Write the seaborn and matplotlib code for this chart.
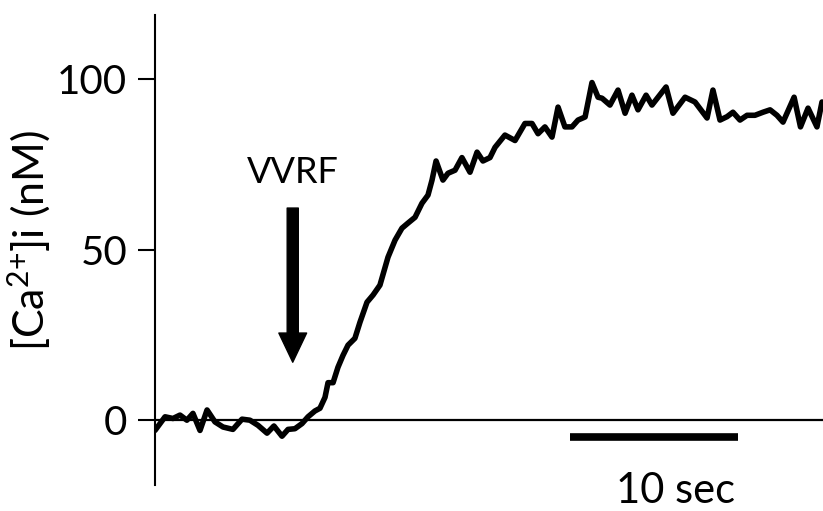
import numpy as np
import pandas as pd
import matplotlib
matplotlib.use('Agg')
import matplotlib.pyplot as plt
import seaborn as sns

# trace: time (s) and [Ca2+]i (nM)
time_s = [
    0.0, 0.6, 1.07, 1.49, 1.9, 2.26, 2.68, 3.1, 3.57, 4.05,
    4.64, 5.18, 5.65, 6.13, 6.67, 7.08, 7.56, 7.92, 8.33, 8.75,
    9.11, 9.52, 9.82, 10.12, 10.3, 10.6, 10.89, 11.19, 11.49, 11.9,
    12.2, 12.62, 12.98, 13.39, 13.87, 14.29, 14.7, 15.06, 15.48, 15.89,
    16.25, 16.49, 16.73, 17.14, 17.44, 17.86, 18.27, 18.75, 19.17, 19.52,
    19.94, 20.24, 20.83, 21.43, 22.02, 22.44, 22.8, 23.21, 23.63, 23.99,
    24.4, 24.82, 25.18, 25.6, 26.01, 26.37, 26.61, 27.08, 27.56, 27.98,
    28.39, 28.75, 29.23, 29.58, 30.42, 30.83, 31.55, 32.14, 32.86, 33.21,
    33.63, 34.05, 34.4, 34.82, 35.24, 35.71, 36.19, 36.61, 37.02, 37.38,
    38.04, 38.42, 38.87, 39.4, 39.7,
]
ca_nM = [
    -3, 1, 0.5, 1.5, 0, 2, -3, 3, -0.5, -2,
    -2.7, 0.3, 0, -1.5, -3.8, -1.7, -4.7, -2.7, -2.5, -1,
    1, 2.7, 3.5, 6.7, 11, 11, 15.5, 19, 22, 24,
    28.7, 34.6, 36.7, 39.6, 47.8, 52.8, 56.3, 57.8, 59.5, 63.6,
    66, 70.4, 76, 70.4, 72.4, 73.3, 77, 72.7, 78.6, 76,
    77, 80, 83.6, 82, 87, 87, 84, 86, 83, 91.8,
    86, 86, 88, 88.9, 99, 94.7, 94.4, 92.4, 96.8, 90,
    95.3, 91, 95.3, 92.4, 97.7, 90, 94.7, 93.3, 88.6, 96.8,
    88, 89, 90.3, 88, 89.4, 89.4, 90.3, 91, 89.4, 87.4,
    94.7, 86, 91.5, 86, 93.3,
]

yticks = [0, 50, 100]
stim_label = 'VVRF'
stim_time = 8.2
scale_bar = (24.7, 34.7)
scale_label = '10 sec'

df = pd.DataFrame({'time': time_s, 'ca': ca_nM})

sns.set_style('ticks')
plt.rcParams['font.family'] = ['Lato', 'DejaVu Sans']
plt.rcParams['mathtext.fontset'] = 'custom'
plt.rcParams['mathtext.rm'] = 'Lato'
plt.rcParams['mathtext.default'] = 'rm'
plt.rcParams['text.color'] = 'black'
plt.rcParams['axes.labelcolor'] = 'black'
plt.rcParams['ytick.color'] = 'black'

fig = plt.figure(figsize=(8.23, 5.11), dpi=100)
ax = fig.add_axes([0.1883, 0.0509, 0.8117, 0.9197])

ax.axhline(0, color='black', lw=1.6, zorder=1)
sns.lineplot(data=df, x='time', y='ca', ax=ax, color='black', lw=4,
             solid_joinstyle='round', zorder=3)

ax.set_xlim(0, 39.76)
ax.set_ylim(-19, 118.8)
ax.set_yticks(yticks)
ax.set_xticks([])
ax.set_xlabel('')
ax.set_ylabel('[Ca$^{2{+}}$]i (nM)', fontsize=31)
ax.yaxis.set_label_coords(-0.152, 0.52)
ax.tick_params(axis='y', length=12, width=1.5, pad=8, labelsize=29)
for side in ['top', 'right', 'bottom']:
    ax.spines[side].set_visible(False)
ax.spines['left'].set_linewidth(1.5)
ax.spines['left'].set_color('black')

# stimulus arrow
ax.text(stim_time, 69.5, stim_label, ha='center', va='baseline', fontsize=26)
ax.annotate('', xy=(stim_time, 17), xytext=(stim_time, 62.2),
            arrowprops=dict(arrowstyle='simple,head_width=1.0,head_length=1.05,tail_width=0.4',
                            color='black', mutation_scale=20, shrinkA=0, shrinkB=0))

# time scale bar
ax.plot(scale_bar, [-5, -5], color='black', lw=5.5, solid_capstyle='butt', clip_on=False)
ax.text(31.0, -24.3, scale_label, ha='center', va='baseline', fontsize=30, clip_on=False)

fig.savefig('out.png', dpi=100)
